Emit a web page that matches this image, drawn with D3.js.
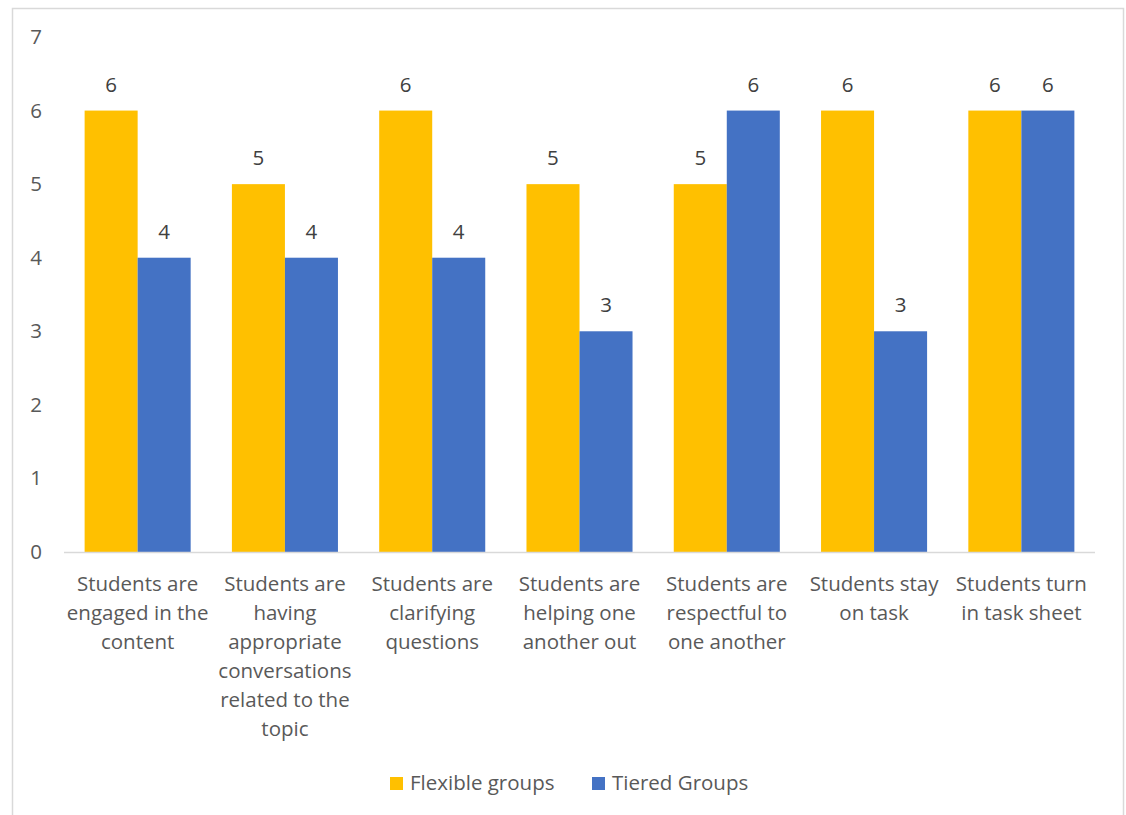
<!DOCTYPE html>
<html><head><meta charset="utf-8">
<script src="https://cdn.jsdelivr.net/npm/d3@7"></script>
<style>
html,body{margin:0;padding:0;background:#fff;}
svg text{font-family:"Open Sans",sans-serif;fill:#595959;}
</style></head>
<body>
<svg id="chart" width="1126" height="815"></svg>
<script>
const categories = [
  "Students are engaged in the content",
  "Students are having appropriate conversations related to the topic",
  "Students are clarifying questions",
  "Students are helping one another out",
  "Students are respectful to one another",
  "Students stay on task",
  "Students turn in task sheet"
];
const seriesNames = ["Flexible groups", "Tiered Groups"];
const flexible = [6, 5, 6, 5, 5, 6, 6];
const tiered = [4, 4, 4, 3, 6, 3, 6];
const yTicks = [0, 1, 2, 3, 4, 5, 6, 7];
const colors = ["#FFC000", "#4472C4"];

(function(){
const FS = "20.5px";
const svg = d3.select("#chart");
svg.append("rect").attr("x", 12.5).attr("y", 8.5).attr("width", 1111).attr("height", 820)
  .attr("fill", "#fff").attr("stroke", "#d9d9d9").attr("stroke-width", 1.5);

const pLeft = 64, pRight = 1095, pTop = 37, pBottom = 552;
const x0 = d3.scaleBand().domain(categories).range([pLeft, pRight]).paddingInner(0.28).paddingOuter(0.14);
const x1 = d3.scaleBand().domain(seriesNames).range([0, x0.bandwidth()]);
const y = d3.scaleLinear().domain([0, 7]).range([pBottom, pTop]);

const series = [flexible, tiered];
const rows = categories.map((c, i) => ({cat: c, vals: series.map((s, k) => ({name: seriesNames[k], v: s[i], k}))}));

const g = svg.append("g");
const grp = g.selectAll("g.cat").data(rows).join("g").attr("transform", d => `translate(${x0(d.cat)},0)`);
grp.selectAll("rect").data(d => d.vals).join("rect")
  .attr("x", d => x1(d.name)).attr("y", d => y(d.v))
  .attr("width", x1.bandwidth()).attr("height", d => y(0) - y(d.v))
  .attr("fill", d => colors[d.k]);
grp.selectAll("text.val").data(d => d.vals).join("text").attr("class", "val")
  .attr("x", d => x1(d.name) + x1.bandwidth() / 2).attr("y", d => y(d.v) - 19)
  .attr("text-anchor", "middle").style("font-size", FS).style("fill", "#404040").text(d => d.v);

g.append("line").attr("x1", pLeft).attr("x2", pRight).attr("y1", pBottom + 0.5).attr("y2", pBottom + 0.5)
  .attr("stroke", "#d9d9d9").attr("stroke-width", 1.5);

const yAxis = d3.axisLeft(y).tickValues(yTicks).tickSize(0).tickPadding(0).tickFormat(d3.format("d"));
const ya = g.append("g").attr("transform", `translate(42,0)`).call(yAxis);
ya.select(".domain").remove();
ya.selectAll("text").style("font-size", FS).style("font-family", "Open Sans").attr("fill", "#595959");

const xAxis = d3.axisBottom(x0).tickSize(0).tickPadding(0);
const xa = g.append("g").attr("transform", `translate(0,${pBottom})`).call(xAxis);
xa.select(".domain").remove();
xa.selectAll("text").style("font-size", FS).style("font-family", "Open Sans").attr("fill", "#595959").attr("y", 39).attr("dy", 0)
  .each(function(d) {
    const t = d3.select(this);
    const words = d.split(/\s+/);
    t.text(null);
    let line = [], lineNo = 0;
    let ts = t.append("tspan").attr("x", 0).attr("y", 39);
    for (const w of words) {
      line.push(w);
      ts.text(line.join(" "));
      if (ts.node().getComputedTextLength() > 148 && line.length > 1) {
        line.pop(); ts.text(line.join(" "));
        line = [w]; lineNo++;
        ts = t.append("tspan").attr("x", 0).attr("y", 39 + lineNo * 29).text(w);
      }
    }
  });

const legend = svg.append("g");
const legX = [390, 592];
seriesNames.forEach((n, k) => {
  legend.append("rect").attr("x", legX[k]).attr("y", 777).attr("width", 13).attr("height", 13).attr("fill", colors[k]);
  legend.append("text").attr("x", legX[k] + 20).attr("y", 790).style("font-size", FS).text(n);
});
})();
</script>
</body></html>
